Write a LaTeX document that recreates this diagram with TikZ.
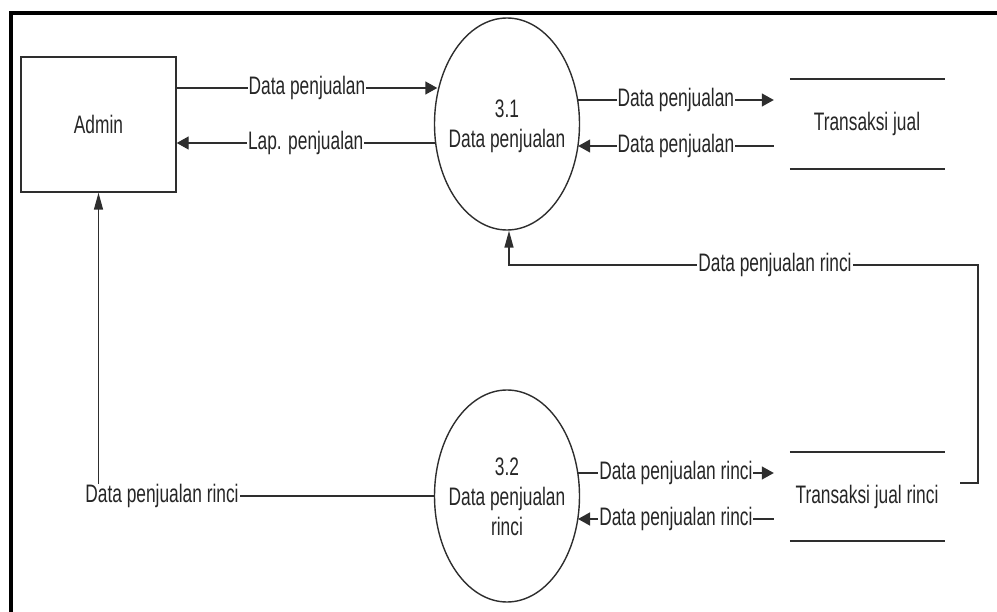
\documentclass[tikz,border=0pt]{standalone}
\usepackage{fontspec}
% Arial-metric face, drawn narrow and tall like the original drawing
\newfontfamily\dfdfont[FakeStretch=0.685]{Liberation Sans}
\usetikzlibrary{arrows.meta,shapes.geometric}
\definecolor{ink}{HTML}{262626}
\definecolor{wire}{HTML}{2E2E2E}
\begin{document}
\begin{tikzpicture}[x=1pt,y=-1pt,
  txt/.style={font=\dfdfont\fontsize{25.3}{30}\selectfont, text=ink},
  entity/.style={txt, draw=wire, line width=1.4pt, rectangle,
    minimum width=155pt, minimum height=135pt, inner sep=0pt},
  process/.style={draw=wire, line width=1.4pt, ellipse,
    minimum width=145pt, minimum height=212pt, inner sep=0pt},
  store/.style={txt, rectangle, inner sep=0pt},
  storeline/.style={draw=wire, line width=1.6pt},
  lbl/.style={txt, fill=white, inner xsep=1pt, inner ysep=0pt},
  flow/.style={draw=wire, line width=1.4pt},
  htip/.style={-{Triangle[length=12pt,width=13pt]}},
  vtip/.style={-{Triangle[length=17pt,width=9pt]}}
]
\useasboundingbox (0,0) rectangle (997,612);

% outer frame (top and left edges)
\draw[line width=3.5pt, black] (11,612) -- (11,13) -- (997,13);

% external entity
\node[entity] (admin) at (98.5,124.5) {Admin};

% processes
\node[process] (p31) at (507,124) {};
\node[txt, align=center] (p31t) at (507,126) {3.1\\Data penjualan};
\node[process] (p32) at (507,496) {};
\node[txt, align=center] (p32t) at (507,497) {3.2\\Data penjualan\\rinci};

% data stores
\node[store, minimum width=186pt, minimum height=90pt] (ts1) at (867,124) {Transaksi jual};
\node[store, minimum width=186pt, minimum height=89pt] (ts2) at (867,496.5) {Transaksi jual rinci};
\foreach \s in {ts1,ts2}{
  \draw[storeline] ([xshift=16pt]\s.north west) -- ([xshift=-15pt]\s.north east);
  \draw[storeline] ([xshift=16pt]\s.south west) -- ([xshift=-15pt]\s.south east);
}

% flows between Admin and 3.1
\draw[flow, htip] ([yshift=36.5pt]admin.east) -- ([xshift=3.5pt,yshift=36pt]p31.west)
  node[lbl, midway] {Data penjualan};
\draw[flow, htip] ([xshift=1pt,yshift=-19pt]p31.west) -- ([yshift=-18.5pt]admin.east)
  node[lbl, midway] {Lap. penjualan};

% flows between 3.1 and Transaksi jual
\draw[flow, htip] ([xshift=-2.4pt,yshift=24pt]p31.east) -- ([yshift=24pt]ts1.west)
  node[lbl, midway] {Data penjualan};
\draw[flow, htip] ([yshift=-22pt]ts1.west) -- ([xshift=-2pt,yshift=-22pt]p31.east)
  node[lbl, midway] {Data penjualan};

% flows between 3.2 and Transaksi jual rinci
\draw[flow, htip] ([xshift=-2.2pt,yshift=23pt]p32.east) -- ([yshift=23.5pt]ts2.west)
  node[lbl, midway] {Data penjualan rinci};
\draw[flow, htip] ([yshift=-22.5pt]ts2.west) -- ([xshift=-2.2pt,yshift=-23pt]p32.east)
  node[lbl, midway] {Data penjualan rinci};

% Transaksi jual rinci back up to 3.1
\coordinate (up1) at (978,483);
\coordinate (up2) at (978,265);
\draw[flow, vtip] ([yshift=13.5pt]ts2.east) -- (up1) -- (up2) -| ([xshift=2pt]p31.south);
\node[lbl] (l5) at (775,265) {Data penjualan rinci};

% 3.2 to Admin
\draw[flow, vtip] (p32.west) -| (admin.south);
\node[lbl] (l8) at (162,496) {Data penjualan rinci};
\end{tikzpicture}
\end{document}
